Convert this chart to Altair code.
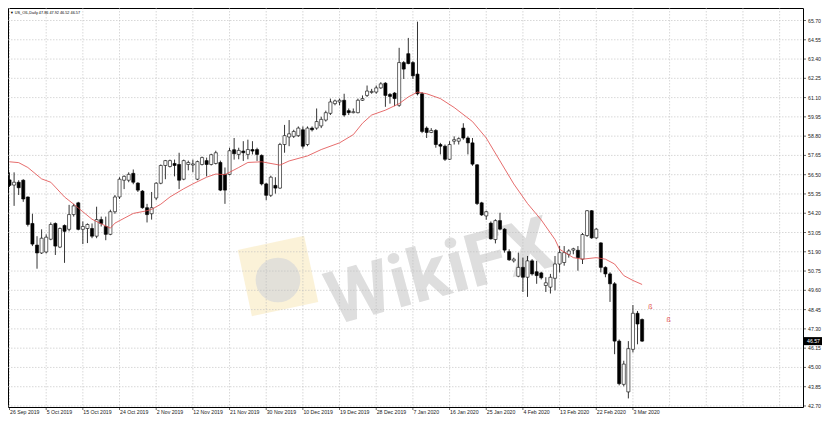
import altair as alt
import pandas as pd

# ── values (US_OIL daily, one bar per entry) ─────────────────────────────────

opens = [
    56.19, 55.88, 56.05, 56.17, 55.17, 53.59, 52.30, 51.83, 51.89, 52.65,
    53.59, 52.18, 53.47, 53.24, 54.12, 54.82, 53.24, 53.29, 53.29, 52.83,
    53.82, 53.41, 52.94, 54.29, 55.17, 56.17, 56.17, 56.58, 56.00, 55.52,
    54.53, 54.17, 55.11, 55.99, 57.05, 56.99, 57.17, 57.11, 56.23, 57.11,
    57.08, 56.23, 57.11, 57.34, 57.11, 57.17, 57.23, 56.52, 56.52, 57.99,
    57.71, 57.91, 57.71, 58.00, 58.00, 57.65, 55.95, 55.27, 55.86, 55.70,
    58.30, 58.75, 58.79, 58.83, 59.18, 58.30, 59.28, 59.28, 59.41, 59.76,
    60.16, 60.74, 60.84, 60.94, 60.32, 60.20, 60.20, 60.94, 61.23, 61.41,
    61.43, 61.68, 61.96, 61.29, 61.37, 60.64, 63.19, 63.72, 63.19, 62.50,
    61.33, 59.28, 59.02, 59.14, 58.30, 58.20, 57.42, 58.50, 58.50, 59.28,
    58.69, 58.40, 57.09, 54.82, 54.04, 53.61, 52.63, 53.76, 53.25, 51.91,
    51.36, 50.44, 50.97, 50.38, 51.36, 50.71, 50.64, 49.89, 49.79, 50.32,
    51.17, 51.26, 51.75, 52.00, 51.99, 51.46, 52.87, 54.35, 52.73, 52.43,
    50.97, 50.58, 49.99, 46.57, 43.99, 43.54, 46.08, 48.23, 47.86,
]
highs = [
    56.64, 56.64, 56.17, 56.23, 55.20, 54.17, 52.83, 53.24, 52.94, 53.65,
    53.65, 53.35, 53.53, 54.70, 54.76, 54.88, 53.71, 53.59, 53.59, 54.59,
    54.00, 54.00, 54.41, 55.29, 56.35, 56.46, 56.64, 56.81, 56.05, 55.58,
    54.76, 55.47, 56.05, 57.11, 57.38, 57.40, 57.40, 57.81, 57.40, 57.34,
    57.40, 57.34, 57.58, 57.52, 57.75, 57.93, 57.34, 56.93, 58.11, 58.69,
    58.11, 58.50, 58.59, 58.50, 58.11, 57.71, 56.01, 56.44, 56.35, 58.40,
    59.47, 59.76, 59.18, 59.38, 59.38, 59.38, 59.38, 60.45, 59.96, 60.32,
    61.04, 60.98, 61.04, 61.33, 60.45, 60.45, 61.04, 61.23, 61.82, 61.62,
    61.82, 62.02, 62.02, 61.37, 61.43, 64.07, 63.28, 64.66, 63.28, 65.63,
    61.43, 59.38, 59.28, 59.22, 58.40, 58.30, 58.50, 58.79, 58.73, 59.57,
    58.79, 58.69, 57.13, 54.88, 54.35, 53.71, 53.84, 54.23, 53.31, 52.05,
    51.55, 51.85, 51.55, 51.65, 51.46, 51.36, 50.71, 50.38, 50.58, 51.65,
    52.24, 52.24, 52.05, 52.14, 52.24, 53.02, 54.39, 54.39, 53.31, 52.47,
    51.03, 50.68, 50.09, 46.67, 45.40, 46.57, 48.72, 48.37, 47.92,
]
lows = [
    55.76, 54.64, 55.29, 54.88, 53.41, 52.24, 50.89, 51.77, 51.80, 52.59,
    51.71, 52.12, 51.24, 53.12, 54.00, 53.18, 52.36, 52.42, 52.71, 52.71,
    53.41, 52.59, 52.89, 54.17, 55.05, 55.64, 56.05, 55.93, 55.47, 54.47,
    53.65, 53.82, 54.99, 55.93, 56.23, 56.93, 56.40, 55.64, 56.17, 56.76,
    56.64, 56.17, 57.05, 56.40, 57.05, 57.11, 55.52, 54.76, 56.46, 57.40,
    57.42, 57.32, 57.42, 57.71, 57.32, 55.86, 54.98, 55.17, 55.37, 55.66,
    57.81, 58.20, 58.69, 58.75, 58.05, 58.20, 59.08, 59.18, 59.28, 59.67,
    60.06, 60.64, 60.64, 59.96, 60.06, 60.16, 60.16, 60.90, 61.14, 61.33,
    61.33, 61.62, 60.55, 60.74, 60.59, 60.55, 62.21, 63.09, 62.21, 61.23,
    58.98, 58.69, 58.98, 58.11, 57.71, 57.32, 57.38, 58.30, 58.30, 58.59,
    57.71, 57.03, 54.69, 54.04, 53.81, 52.63, 52.40, 53.18, 51.85, 51.36,
    51.26, 50.38, 49.50, 49.21, 50.48, 49.99, 50.25, 49.50, 49.41, 49.60,
    50.67, 51.07, 51.55, 51.75, 50.77, 51.17, 52.79, 52.67, 52.67, 50.67,
    50.38, 48.91, 45.79, 43.93, 43.87, 43.15, 45.89, 46.38, 46.52,
]
closes = [
    55.86, 56.05, 55.72, 55.05, 53.53, 52.36, 51.83, 52.71, 52.77, 53.53,
    52.24, 53.29, 53.12, 54.12, 54.64, 53.24, 53.41, 53.53, 52.83, 53.82,
    53.59, 52.94, 54.29, 55.17, 56.23, 56.40, 56.52, 56.05, 55.58, 54.53,
    54.12, 54.53, 55.99, 57.05, 57.34, 57.34, 57.05, 56.17, 57.34, 57.23,
    57.14, 57.28, 57.52, 57.11, 57.69, 57.81, 55.58, 55.58, 57.93, 57.75,
    57.95, 57.81, 58.00, 57.91, 57.71, 55.95, 55.27, 56.35, 55.70, 58.30,
    58.83, 58.94, 59.08, 59.28, 58.20, 59.28, 59.18, 59.67, 59.80, 60.20,
    60.84, 60.90, 60.94, 60.06, 60.20, 60.26, 60.94, 61.04, 61.49, 61.47,
    61.68, 61.92, 61.23, 61.17, 61.04, 63.19, 62.80, 63.13, 62.40, 61.33,
    59.08, 59.02, 59.14, 58.30, 58.20, 57.42, 58.30, 58.59, 58.65, 58.69,
    58.40, 57.13, 54.78, 54.10, 54.29, 52.67, 53.76, 53.25, 52.00, 51.42,
    51.46, 50.97, 50.38, 51.36, 50.58, 50.48, 50.35, 50.05, 50.38, 51.17,
    51.85, 51.85, 51.95, 52.08, 51.55, 52.93, 54.35, 52.73, 53.25, 50.97,
    50.58, 49.99, 46.57, 44.03, 45.20, 46.12, 48.23, 47.59, 46.57,
]

# red moving average, read at a set of bars
ma_bars = [
    0, 2, 4, 7, 9, 10, 12, 14, 16, 18, 20, 22, 23, 25, 27, 30, 31, 33, 35, 38,
    40, 43, 45, 47, 50, 52, 55, 59, 61, 65, 68, 72, 75, 77, 79, 82, 85, 87, 89, 91,
    94, 97, 101, 104, 107, 110, 113, 116, 119, 120, 123, 125, 128, 130, 132, 134, 136, 138,
]
ma_values = [
    57.27, 57.22, 56.93, 56.25, 56.05, 55.76, 55.17, 54.74, 54.29, 53.84,
    53.57, 53.31, 53.61, 53.90, 54.19, 54.35, 54.43, 54.74, 55.17, 55.66,
    55.95, 56.35, 56.54, 56.50, 56.93, 57.23, 57.27, 57.07, 57.32, 57.62,
    58.00, 58.40, 58.89, 59.57, 60.06, 60.35, 60.74, 61.14, 61.43, 61.33,
    61.04, 60.51, 59.67, 58.69, 57.32, 55.95, 54.78, 53.80, 52.63, 52.05,
    51.55, 51.46, 51.55, 51.46, 51.17, 50.48, 50.19, 49.95,
]

date_bars = [0, 8, 16, 24, 32, 40, 48, 56, 64, 72, 80, 88, 96, 104, 112, 120, 128, 136]
date_labels = [
    "26 Sep 2019", "5 Oct 2019", "15 Oct 2019", "24 Oct 2019", "2 Nov 2019",
    "12 Nov 2019", "21 Nov 2019", "30 Nov 2019", "10 Dec 2019", "19 Dec 2019",
    "28 Dec 2019", "7 Jan 2020", "16 Jan 2020", "25 Jan 2020", "4 Feb 2020",
    "13 Feb 2020", "22 Feb 2020", "3 Mar 2020",
]
grid_bars = date_bars + [144, 152, 160, 168]

price_ticks = [
    42.70, 43.85, 45.00, 46.15, 47.30, 48.45, 49.60, 50.75, 51.90, 53.05, 54.20,
    55.35, 56.50, 57.65, 58.80, 59.95, 61.10, 62.25, 63.40, 64.55, 65.70,
]

last_price = 46.57
header = "▼ US_OIL,Daily  47.86 47.92 46.52 46.57"

marker_bars = [139.8, 143.8]
marker_prices = [48.59, 47.84]

# ── layout / styling ────────────────────────────────────────────────────────

FONT = "Liberation Sans"
W, H = 795, 399
X_DOMAIN = [-0.33, 173.1]
Y_DOMAIN = [42.639, 66.446]
GRID = "#bdbdbd"
INK = "#222222"
RED = "#e04848"

xs = alt.Scale(domain=X_DOMAIN, nice=False, zero=False)
ys = alt.Scale(domain=Y_DOMAIN, nice=False, zero=False)


def X(field):
    return alt.X(field, scale=xs, axis=None)


def Y(field):
    return alt.Y(field, scale=ys, axis=None)


one = pd.DataFrame({"k": [0]})

# ── watermark (sits under the grid and candles) ─────────────────────────────

logo_box = alt.Chart(one).mark_point(
    shape="square", size=4600, filled=True, color="#f7e2a8", opacity=0.45, angle=348
).encode(x=alt.value(270), y=alt.value(268))

logo_disc = alt.Chart(one).mark_point(
    shape="circle", size=2000, filled=True, color="#d9d9d9", opacity=0.75
).encode(x=alt.value(270), y=alt.value(272))

wm_text = alt.Chart(pd.DataFrame({"t": ["WikiFX"]})).mark_text(
    font="Roboto", fontSize=74, fontWeight="bold", color="#dedede",
    align="center", baseline="middle", angle=345
).encode(x=alt.value(432), y=alt.value(266), text="t:N")

# ── grid and axis labels (drawn by hand, MT4 style) ─────────────────────────

price_df = pd.DataFrame({"p": price_ticks, "t": [f"{v:.2f}" for v in price_ticks]})
date_df = pd.DataFrame({"bar": date_bars, "t": date_labels})

h_grid = alt.Chart(price_df).mark_rule(
    color=GRID, strokeWidth=0.6, strokeDash=[1.5, 1.5]
).encode(y=Y("p:Q"), x=alt.value(0), x2=alt.value(W))

v_grid = alt.Chart(pd.DataFrame({"bar": grid_bars})).mark_rule(
    color=GRID, strokeWidth=0.6, strokeDash=[1.5, 1.5]
).encode(x=X("bar:Q"), y=alt.value(0), y2=alt.value(H))

y_ticks = alt.Chart(price_df).mark_rule(color="#000", strokeWidth=0.6).encode(
    y=Y("p:Q"), x=alt.value(W), x2=alt.value(W + 3)
)
y_labels = alt.Chart(price_df).mark_text(
    align="left", baseline="middle", fontSize=5.2, font=FONT, color=INK
).encode(y=Y("p:Q"), x=alt.value(W + 5), text="t:N")

x_ticks = alt.Chart(date_df).mark_rule(color="#000", strokeWidth=0.6).encode(
    x=X("bar:Q"), y=alt.value(H), y2=alt.value(H + 3)
)
x_labels = alt.Chart(date_df).mark_text(
    align="left", baseline="top", dx=0.5, fontSize=5.2, font=FONT, color=INK
).encode(x=X("bar:Q"), y=alt.value(H + 3), text="t:N")

# ── candles ─────────────────────────────────────────────────────────────────

df = pd.DataFrame({
    "bar": list(range(len(opens))),
    "open": opens,
    "high": highs,
    "low": lows,
    "close": closes,
})
df["body_lo"] = df[["open", "close"]].min(axis=1)
df["body_hi"] = df[["open", "close"]].max(axis=1)
df["bull"] = df["close"] > df["open"]

wicks = alt.Chart(df).mark_rule(color="#000", strokeWidth=0.8).encode(
    x=X("bar:Q"), y=Y("low:Q"), y2="high:Q"
)

bodies = (
    alt.Chart(df)
    .transform_calculate(x0="datum.bar - 0.34", x1="datum.bar + 0.34")
    .mark_rect(stroke="#000", strokeWidth=0.6)
    .encode(
        x=X("x0:Q"),
        x2="x1:Q",
        y=Y("body_lo:Q"),
        y2="body_hi:Q",
        fill=alt.condition("datum.bull", alt.value("#ffffff"), alt.value("#000000")),
    )
)

ma_line = alt.Chart(pd.DataFrame({"bar": ma_bars, "ma": ma_values})).mark_line(
    color=RED, strokeWidth=0.8
).encode(x=X("bar:Q"), y=Y("ma:Q"))

markers = alt.Chart(pd.DataFrame({"bar": marker_bars, "p": marker_prices})).mark_text(
    text="ß", fontSize=7, color=RED, font=FONT
).encode(x=X("bar:Q"), y=Y("p:Q"))

# ── header and current price box ────────────────────────────────────────────

title_text = alt.Chart(pd.DataFrame({"t": [header]})).mark_text(
    align="left", baseline="middle", fontSize=3.8, font=FONT, color="#000"
).encode(x=alt.value(2), y=alt.value(5), text="t:N")

last_df = pd.DataFrame({"p": [last_price], "t": [f"{last_price:.2f}"]})
price_box = (
    alt.Chart(last_df)
    .transform_calculate(p0="datum.p - 0.24", p1="datum.p + 0.24")
    .mark_rect(color="#000")
    .encode(x=alt.value(W + 1), x2=alt.value(W + 19), y=Y("p0:Q"), y2="p1:Q")
)
price_label = alt.Chart(last_df).mark_text(
    align="left", baseline="middle", fontSize=5.2, font=FONT, color="#fff"
).encode(x=alt.value(W + 4), y=Y("p:Q"), text="t:N")

chart = alt.layer(
    logo_box, logo_disc, wm_text,
    h_grid, v_grid,
    wicks, bodies, ma_line, markers,
    y_ticks, y_labels, x_ticks, x_labels,
    title_text, price_box, price_label,
).properties(
    width=W,
    height=H,
    autosize=alt.AutoSizeParams(type="none"),
    padding={"left": 0, "top": 0, "right": 20, "bottom": 9},
).configure(
    background="#ffffff",
).configure_view(
    stroke="#000",
    strokeWidth=1,
)

chart.save("out.html", embed_options={"renderer": "svg", "actions": False})
